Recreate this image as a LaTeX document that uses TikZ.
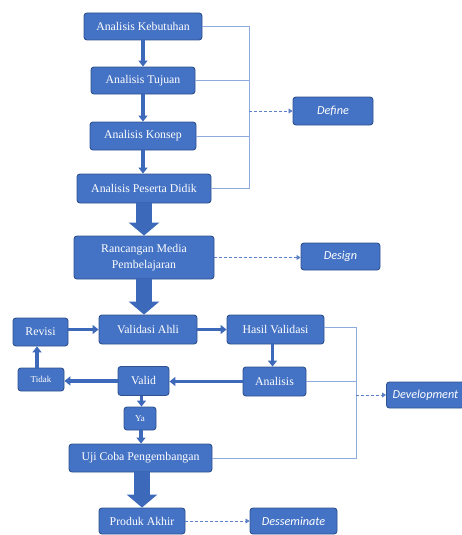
\documentclass[tikz,border=0pt]{standalone}
\usepackage{fontspec}
\setmainfont{Liberation Serif}
\newfontfamily\phasefont{Carlito}
\usetikzlibrary{arrows.meta}
\definecolor{boxfill}{HTML}{4472C4}
\definecolor{boxline}{HTML}{2F528F}
\definecolor{arrcol}{HTML}{3D69BB}
\definecolor{thincol}{HTML}{8FAADC}
\definecolor{dashcol}{HTML}{5B80C8}
\begin{document}
\begin{tikzpicture}[x=1pt,y=-1pt,
  box/.style={draw=boxline, fill=boxfill, line width=0.9pt, rounded corners=3pt,
    text=white, font=\fontsize{11.8}{16}\selectfont, align=center, inner sep=0pt},
  smallbox/.style={box, font=\fontsize{9}{10}\selectfont},
  phase/.style={box, font=\phasefont\itshape\fontsize{12.2}{14}\selectfont},
  flow/.style={draw=arrcol, line width=3.6pt, -{Triangle[width=9pt,length=6pt]}},
  bigflow/.style={draw=arrcol, line width=16pt, -{Triangle[width=30pt,length=13pt]}},
  bracket/.style={draw=thincol, line width=0.8pt},
  dashflow/.style={draw=dashcol, line width=0.8pt, dash pattern=on 3pt off 2pt, -{Triangle[width=5pt,length=4pt]}}
]
\useasboundingbox (0,0) rectangle (462,535);

% Define phase
\node[box, minimum width=118pt, minimum height=27pt] (keb) at (143,26.5) {Analisis Kebutuhan};
\node[box, minimum width=104pt, minimum height=27pt] (tuj) at (143,80.5) {Analisis Tujuan};
\node[box, minimum width=106pt, minimum height=28pt] (kon) at (143,136) {Analisis Konsep};
\node[box, minimum width=134pt, minimum height=29pt] (did) at (144,188.5) {Analisis Peserta Didik};
\node[phase, minimum width=80pt, minimum height=28pt] (def) at (333,111) {Define};

% Design
\node[box, minimum width=140pt, minimum height=43pt] (ran) at (144,257.5) {Rancangan Media\\Pembelajaran};
\node[phase, minimum width=79pt, minimum height=27pt] (des) at (340.5,256.5) {Design};

% Development
\node[box, minimum width=98pt, minimum height=29pt] (val) at (148,329.5) {Validasi Ahli};
\node[box, minimum width=55pt, minimum height=28pt] (rev) at (40.5,332) {Revisi};
\node[box, minimum width=97pt, minimum height=29pt] (has) at (275.5,329.5) {Hasil Validasi};
\node[box, minimum width=63pt, minimum height=29pt] (ana) at (274.5,381.5) {Analisis};
\node[box, minimum width=51pt, minimum height=29pt, anchor=north] (vld) at (143.5,366) {Valid};
\node[smallbox, minimum width=46pt, minimum height=23pt] (tid) at (41,379.5) {Tidak};
\node[smallbox, minimum width=32pt, minimum height=23pt] (ya) at (140,418.5) {Ya};
\node[box, minimum width=143pt, minimum height=28pt] (uji) at (140.5,458) {Uji Coba Pengembangan};
\node[phase, minimum width=78pt, minimum height=26pt, anchor=west] (dev) at (386,395) {Development};

% Disseminate
\node[box, minimum width=86pt, minimum height=26pt] (pro) at (142,521) {Produk Akhir};
\node[phase, minimum width=87pt, minimum height=26pt] (dis) at (293.5,521) {Desseminate};

% main flow
\draw[flow] (keb.south -| tuj.north) -- (tuj.north);
\draw[flow] (tuj.south) -- (tuj.south |- kon.north);
\draw[flow] (kon.south) -- (kon.south |- did.north);
\draw[bigflow] (did.south) -- (ran.north);
\draw[bigflow] (ran.south) -- (ran.south |- val.north);
\draw[flow] (rev.east |- val.west) -- (val.west);
\draw[flow] (val.east) -- (has.west);
\draw[flow] ([xshift=-3pt]has.south) -- ([xshift=-3pt]has.south |- ana.north);
\draw[flow] (ana.west) -- (ana.west -| vld.east);
\draw[flow] (vld.west) -- (vld.west -| tid.east);
\draw[flow] ([xshift=-4pt]tid.north) -- ([xshift=-4pt]tid.north |- rev.south);
\draw[flow] ([xshift=-2pt]vld.south) -- ([xshift=-2pt]vld.south |- ya.north);
\draw[flow] ([xshift=1pt]ya.south) -- ([xshift=1pt]ya.south |- uji.north);
\draw[bigflow] (uji.south -| pro.north) -- (pro.north);

% Define bracket
\coordinate (b1) at (249,0);
\draw[bracket] (keb.east) -- (keb.east -| b1) -- (did.east -| b1) -- (did.east);
\draw[bracket] (tuj.east) -- (tuj.east -| b1);
\draw[bracket] (kon.east) -- (kon.east -| b1);
\coordinate (bd) at (249,111);
\draw[dashflow] (bd) -- (def.west);

% Design
\draw[dashflow] (ran.east) -- (ran.east -| des.west);

% Development bracket
\coordinate (b2) at (356,0);
\draw[bracket] ([yshift=2pt]has.east) -- ([yshift=2pt]has.east -| b2) -- (uji.east -| b2) -- (uji.east);
\draw[bracket] (ana.east) -- (ana.east -| b2);
\coordinate (bdev) at (356,395);
\draw[dashflow] (bdev) -- (dev.west);

% Disseminate
\draw[dashflow] (pro.east) -- (dis.west);
\end{tikzpicture}
\end{document}
